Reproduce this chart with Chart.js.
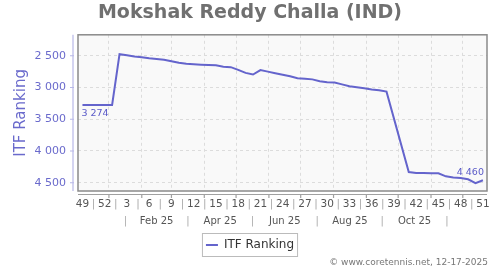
<!DOCTYPE html>
<html>
<head>
<meta charset="utf-8">
<script src="https://cdn.jsdelivr.net/npm/chart.js@4"></script>
<style>
  html, body { margin: 0; padding: 0; background: #fff; }
</style>
</head>
<body>
<canvas id="rankChart" width="500" height="270"></canvas>
<script>
// week numbers shown under the axis (every 3rd week, from 2024-W49)
const weekLabels = ["49", "52", "3", "6", "9", "12", "15", "18", "21", "24", "27", "30", "33", "36", "39", "42", "45", "48", "51"];
// one value per week, null = no ranking that week
const rankValues = [
  3274, 3274, 3274, 3274, 3274, 2476, 2492, 2511, 2524, 2540,
  2550, 2563, 2587, 2611, 2627, 2634, 2640, 2645, 2650, 2674,
  2680, 2722, 2770, 2796, 2726, 2750, 2774, 2800, 2824, 2853,
  2861, 2872, 2900, 2916, 2922, 2951, 2979, 2995, 3011, 3030,
  3043, 3065, null, null, 4331, 4347, 4348, 4350, 4351, 4399,
  4419, 4427, 4446, 4505, 4460
];
const yTicks = [2500, 3000, 3500, 4000, 4500];
const monthLabels = ["Feb 25", "Apr 25", "Jun 25", "Aug 25", "Oct 25"];
const monthStarts = ["2025-01-01", "2025-02-01", "2025-03-01", "2025-04-01", "2025-05-01", "2025-06-01",
  "2025-07-01", "2025-08-01", "2025-09-01", "2025-10-01", "2025-11-01", "2025-12-01", "2026-01-01"];
const firstWeekDate = "2024-12-07";
const footerText = "© www.coretennis.net, 12-17-2025";

const FONT = "'DejaVu Sans', sans-serif";
const LINE = "#6464cc";

const weekIndex = (d) => (Date.parse(d) - Date.parse(firstWeekDate)) / (7 * 864e5);
const fmt = (v) => String(v).replace(/\B(?=(\d{3})+$)/g, " ");

// ticks for the month row: grid lines at month starts, "|" and labels in between
const monthTicks = [];
for (let m = 0; m < monthStarts.length - 1; m++) {
  const start = weekIndex(monthStarts[m]);
  const mid = (start + weekIndex(monthStarts[m + 1])) / 2;
  monthTicks.push({ value: start, kind: "grid" });
  if (m === 11) continue;
  if (m % 2 === 0) monthTicks.push({ value: mid, kind: "sep" });
  else monthTicks.push({ value: mid, kind: "label", text: monthLabels[(m - 1) / 2] });
}

const decorations = {
  id: "decorations",
  beforeDraw(chart) {
    const { ctx, chartArea: a } = chart;
    ctx.save();
    ctx.fillStyle = "#f9f9f9";
    ctx.fillRect(a.left, a.top, a.right - a.left, a.bottom - a.top);
    ctx.restore();
  },
  afterDatasetsDraw(chart) {
    const { ctx, chartArea: a, scales } = chart;
    ctx.save();
    // plot frame
    ctx.strokeStyle = "#8a8a8a";
    ctx.lineWidth = 1.5;
    ctx.strokeRect(a.left, a.top, a.right - a.left, a.bottom - a.top);
    // detached y axis line with small ticks
    ctx.strokeStyle = "#b8b8e8";
    ctx.lineWidth = 1.2;
    ctx.beginPath();
    ctx.moveTo(a.left - 5, a.top);
    ctx.lineTo(a.left - 5, a.bottom);
    yTicks.forEach(v => {
      const y = scales.y.getPixelForValue(v);
      ctx.moveTo(a.left - 8, y);
      ctx.lineTo(a.left - 4, y);
    });
    ctx.stroke();
    // detached x axis line
    ctx.strokeStyle = "#a0a0a0";
    ctx.beginPath();
    ctx.moveTo(a.left, a.bottom + 3.5);
    ctx.lineTo(a.right, a.bottom + 3.5);
    monthTicks.filter(t => t.kind === "grid").forEach(t => {
      const x = scales.x2.getPixelForValue(t.value);
      ctx.moveTo(x, a.bottom + 4);
      ctx.lineTo(x, a.bottom + 7);
    });
    ctx.stroke();
    // first and last value labels
    const pts = chart.getDatasetMeta(0).data;
    const first = pts[0], last = pts[pts.length - 1];
    ctx.fillStyle = "#5a5ac8";
    ctx.font = "9.5px " + FONT;
    ctx.textBaseline = "middle";
    ctx.textAlign = "left";
    ctx.fillText(fmt(rankValues[0]), first.x - 1, first.y + 9);
    ctx.textAlign = "right";
    ctx.fillText(fmt(rankValues[rankValues.length - 1]), last.x + 1, last.y - 8);
    ctx.restore();
  },
  afterDraw(chart) {
    const ctx = chart.ctx;
    ctx.save();
    const box = chart.legend.legendHitBoxes[0];
    if (box) {
      ctx.strokeStyle = "#bbbbbb";
      ctx.lineWidth = 1;
      ctx.strokeRect(box.left - 3.5, box.top - 5.5, box.width + 7, box.height + 11);
    }
    // copyright footer
    ctx.fillStyle = "#777777";
    ctx.font = "9px " + FONT;
    ctx.textAlign = "right";
    ctx.textBaseline = "middle";
    ctx.fillText(footerText, chart.chartArea.right + 1, 263);
    ctx.restore();
  }
};

new Chart("rankChart", {
  type: "line",
  data: {
    datasets: [{
      label: "ITF Ranking",
      data: rankValues.map((v, i) => ({ x: i, y: v })),
      borderColor: LINE,
      backgroundColor: LINE,
      borderWidth: 2,
      pointRadius: 0,
      tension: 0,
      spanGaps: true
    }]
  },
  options: {
    responsive: false,
    animation: false,
    layout: { padding: { left: 0, right: 0, top: 0, bottom: 14 } },
    scales: {
      x: {
        type: "linear",
        min: -0.6,
        max: 54.55,
        afterBuildTicks: (s) => { s.ticks = weekLabels.flatMap((w, i) => i < weekLabels.length - 1 ? [{ value: i * 3 }, { value: i * 3 + 1.5 }] : [{ value: i * 3 }]); },
        afterFit: (s) => { s.height = 20; },
        grid: { display: false, drawTicks: false },
        border: { display: false },
        ticks: {
          autoSkip: false, maxRotation: 0, minRotation: 0, padding: 7,
          font: { family: FONT, size: 10.5 },
          color: (c) => c.index % 2 ? "#aaaaaa" : "#555555",
          callback: (v, i) => i % 2 ? "|" : weekLabels[i / 2]
        }
      },
      x2: {
        type: "linear",
        position: "bottom",
        min: -0.6,
        max: 54.55,
        afterBuildTicks: (s) => { s.ticks = monthTicks.map(t => ({ ...t })); },
        afterFit: (s) => { s.height = 21; },
        grid: {
          drawTicks: false,
          color: (c) => c.tick && c.tick.kind === "grid" ? "#dcdcdc" : "rgba(0,0,0,0)"
        },
        border: { display: false, dash: [3, 3] },
        ticks: {
          autoSkip: false, maxRotation: 0, minRotation: 0, padding: 4,
          font: { family: FONT, size: 10 },
          color: (c) => c.tick && c.tick.kind === "sep" ? "#aaaaaa" : "#555555",
          callback: (v, i, ticks) => ticks[i].kind === "sep" ? "|" : (ticks[i].text || "")
        }
      },
      y: {
        type: "linear",
        reverse: true,
        min: 2170,
        max: 4630,
        afterBuildTicks: (s) => { s.ticks = yTicks.map(v => ({ value: v })); },
        afterFit: (s) => { s.width = 78; },
        grid: { color: "#dcdcdc", drawTicks: false },
        border: { display: false, dash: [3, 3] },
        ticks: {
          padding: 12,
          color: "#6a6acc",
          font: { family: FONT, size: 11 },
          callback: (v) => fmt(v)
        },
        title: {
          display: true,
          text: "ITF Ranking",
          color: "#6a6acc",
          font: { family: FONT, size: 15 },
          padding: { top: 12, bottom: 0 }
        }
      },
      // empty right-hand margin so the legend stays centred on the page
      yRight: {
        type: "linear",
        position: "right",
        grid: { display: false, drawTicks: false },
        border: { display: false },
        ticks: { display: false },
        afterFit: (s) => { s.width = 13; }
      }
    },
    plugins: {
      title: {
        display: true,
        text: "Mokshak Reddy Challa (IND)",
        color: "#707070",
        font: { family: FONT, size: 19, weight: "bold" },
        padding: { top: 2, bottom: 10 }
      },
      legend: {
        position: "bottom",
        maxHeight: 24,
        labels: {
          usePointStyle: true,
          pointStyle: "line",
          pointStyleWidth: 12,
          padding: 7,
          color: "#333333",
          font: { family: FONT, size: 12 }
        }
      },
      tooltip: { enabled: false }
    }
  },
  plugins: [decorations]
});
</script>
</body>
</html>
